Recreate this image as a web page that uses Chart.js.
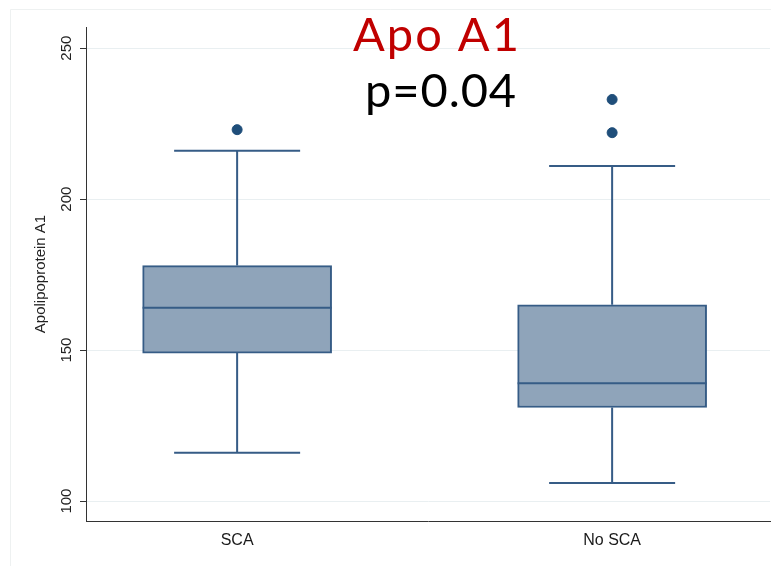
<!DOCTYPE html>
<html>
<head>
<meta charset="utf-8">
<script src="https://cdn.jsdelivr.net/npm/chart.js@4/dist/chart.umd.min.js"></script>
<style>
  html, body { margin: 0; padding: 0; background: #fff; }
  #apoChart { display: block; }
</style>
</head>
<body>
<canvas id="apoChart" width="771" height="566"></canvas>
<script>
// groups on the x axis (positions 1 and 2)
const groups = ['SCA', 'No SCA'];
const groupPos = [1, 2];

// box plot values
const lowerWhisker = [116, 106];
const q1 = [149, 131];
const median = [164, 139];
const q3 = [178, 165];
const upperWhisker = [216, 211];
const outliers = [[223], [233, 222]];

const yTicks = [100, 150, 200, 250];

const boxFill = '#8fa4ba';
const boxLine = '#365c86';
const dotColor = '#1f4e7a';

const boxData = groupPos.map((x, i) => ({ x: x, y: [q1[i], q3[i]] }));
const dotData = [];
groupPos.forEach((x, i) => {
    outliers[i].forEach(v => dotData.push({ x: x, y: v }));
});

// whiskers, caps, medians, rotated y labels and the two title lines
const boxExtras = {
    id: 'boxExtras',
    beforeDraw(chart) {
        const c = chart.ctx;
        c.save();
        c.fillStyle = '#fff';
        c.fillRect(0, 0, chart.width, chart.height);
        c.strokeStyle = '#eef1f1';
        c.lineWidth = 1;
        c.beginPath();
        c.moveTo(10.5, chart.height);
        c.lineTo(10.5, 9.5);
        c.lineTo(chart.width, 9.5);
        c.stroke();
        c.restore();
    },
    afterDatasetsDraw(chart) {
        const c = chart.ctx;
        const xs = chart.scales.x;
        const ys = chart.scales.y;
        const boxW = chart.getDatasetMeta(0).data[0].width;
        c.save();
        c.strokeStyle = boxLine;
        c.lineWidth = 2;
        groupPos.forEach((p, i) => {
            const cx = xs.getPixelForValue(p);
            const cap = boxW / 3;
            const yLo = ys.getPixelForValue(lowerWhisker[i]);
            const yQ1 = ys.getPixelForValue(q1[i]);
            const yQ3 = ys.getPixelForValue(q3[i]);
            const yHi = ys.getPixelForValue(upperWhisker[i]);
            const yMed = ys.getPixelForValue(median[i]);
            c.beginPath();
            c.moveTo(cx, yQ1); c.lineTo(cx, yLo);
            c.moveTo(cx - cap, yLo); c.lineTo(cx + cap, yLo);
            c.moveTo(cx, yQ3); c.lineTo(cx, yHi);
            c.moveTo(cx - cap, yHi); c.lineTo(cx + cap, yHi);
            c.moveTo(cx - boxW / 2, yMed); c.lineTo(cx + boxW / 2, yMed);
            c.stroke();
        });
        c.restore();
    },
    afterDraw(chart) {
        const c = chart.ctx;
        const ys = chart.scales.y;
        c.save();
        c.fillStyle = '#222';
        c.font = '15px "Liberation Sans", Arial, sans-serif';
        c.textAlign = 'center';
        c.textBaseline = 'middle';
        ys.ticks.forEach(t => {
            c.save();
            c.translate(66, ys.getPixelForValue(t.value));
            c.rotate(-Math.PI / 2);
            c.fillText(String(t.value), 0, 1);
            c.restore();
        });
        c.textBaseline = 'alphabetic';
        c.font = '47px Lato, "Open Sans", sans-serif';
        c.fillStyle = '#c00000';
        drawFit(c, 'Apo A1', 437, 51, 168);
        c.fillStyle = '#000';
        drawFit(c, 'p=0.04', 441, 107, 152);
        c.restore();
    }
};

// spread letters so the line gets the width it has in the picture
function drawFit(c, text, cx, y, w) {
    c.save();
    c.letterSpacing = '0px';
    const m = c.measureText(text).width;
    const gap = Math.max(0, (w - m) / text.length);
    c.letterSpacing = gap + 'px';
    c.textAlign = 'left';
    c.fillText(text, cx - w / 2, y);
    c.restore();
}

const ctx = document.getElementById('apoChart').getContext('2d');
const apoChart = new Chart(ctx, {
    type: 'bar',
    data: {
        datasets: [
            {
                type: 'bar',
                data: boxData,
                backgroundColor: boxFill,
                borderColor: boxLine,
                borderWidth: 2,
                borderSkipped: false,
                barThickness: 189,
                order: 2
            },
            {
                type: 'scatter',
                data: dotData,
                backgroundColor: dotColor,
                borderColor: dotColor,
                pointRadius: 5,
                pointHoverRadius: 5,
                order: 1
            }
        ]
    },
    options: {
        responsive: false,
        animation: false,
        layout: { autoPadding: false, padding: { top: 27, right: 1, left: 0, bottom: 0 } },
        plugins: {
            legend: { display: false },
            tooltip: { enabled: false }
        },
        scales: {
            x: {
                type: 'linear',
                offset: false,
                min: 0.597,
                max: 2.421,
                afterBuildTicks: s => { s.ticks = groupPos.map(v => ({ value: v })); },
                afterFit: s => { s.height = 45; },
                grid: { display: false, drawTicks: false, offset: false },
                border: { display: true, color: '#333', width: 1 },
                ticks: {
                    padding: 10,
                    color: '#1a1a1a',
                    font: { family: '"Liberation Sans", Arial, sans-serif', size: 16 },
                    callback: v => groups[groupPos.indexOf(v)]
                }
            },
            y: {
                min: 93.4,
                max: 257,
                afterBuildTicks: s => { s.ticks = yTicks.map(v => ({ value: v })); },
                afterFit: s => { s.width = 86; },
                grid: {
                    color: '#e9eff1',
                    lineWidth: 1,
                    tickLength: 6,
                    tickColor: '#333'
                },
                border: { display: true, color: '#333', width: 1 },
                ticks: { display: false },
                title: {
                    display: true,
                    text: 'Apolipoprotein A1',
                    color: '#222',
                    font: { family: '"Liberation Sans", Arial, sans-serif', size: 15 },
                    padding: { top: 32, bottom: 0 }
                }
            }
        }
    },
    plugins: [boxExtras]
});
</script>
</body>
</html>
